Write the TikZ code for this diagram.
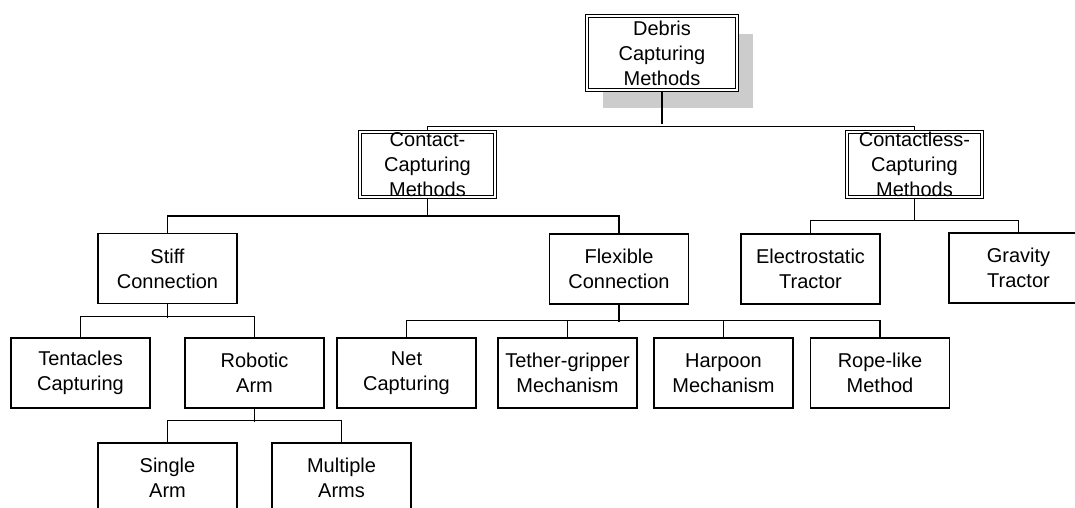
\documentclass[tikz,border=0pt]{standalone}
\usepackage{fontspec}
\setmainfont{Liberation Sans}
\usetikzlibrary{shadows}
\tikzset{
	box/.style={draw, fill=white, line width=1.5pt, minimum width=139pt, minimum height=70pt,
		align=center, inner sep=0pt, font=\fontsize{20}{25}\selectfont},
	dbox/.style={box, double, double distance=2.6pt, line width=1.1pt},
	wire/.style={line width=1.5pt}
}
\begin{document}
\begin{tikzpicture}[x=1pt,y=-1pt]
			\clip (0,0) rectangle (1075,508);
			\path
			(662,53) node[dbox, minimum width=150pt, minimum height=74pt,
				drop shadow={shadow xshift=16pt, shadow yshift=-18pt, fill=black!20, opacity=1}]
				(debris) {Debris\\Capturing\\Methods}
			(427.5,164.5) node[dbox, minimum width=135pt, minimum height=65pt] (contact) {Contact-\\Capturing\\Methods}
			(914.5,164.5) node[dbox, minimum width=135pt, minimum height=65pt] (contactless) {Contactless-\\Capturing\\Methods}
			(167.5,268.5) node[box] (stiff) {Stiff\\Connection}
			(619,269) node[box] (flexible) {Flexible\\Connection}
			(810.5,269) node[box] (electro) {Electrostatic\\Tractor}
			(1018.5,268) node[box] (gravity) {Gravity\\Tractor}
			(80.5,373) node[box] (tentacles) {Tentacles\\Capturing}
			(254.5,373) node[box] (robotic) {Robotic\\Arm}
			(406.5,373) node[box] (net) {Net\\Capturing}
			(567.5,373) node[box] (tether) {Tether-gripper\\Mechanism}
			(723.5,373) node[box] (harpoon) {Harpoon\\Mechanism}
			(880,373) node[box] (rope) {Rope-like\\Method}
			(167.5,478) node[box] (single) {Single\\Arm}
			(341.5,478) node[box] (multiple) {Multiple\\Arms}
			;
			\draw[wire] (debris.south) -- ++(0,33) (contact.north) -- ++(0,-5) -| (contactless.north);
			\draw[wire] (contact.south) -- ++(0,17) (stiff.north) -- ++(0,-17) -| (flexible.north);
			\draw[wire] (contactless.south) -- ++(0,22) (electro.north) -- ++(0,-13) -| (gravity.north);
			\draw[wire] (stiff.south) -- ++(0,14) (tentacles.north) -- ++(0,-21) -| (robotic.north);
			\draw[wire] (flexible.south) -- ++(0,17) (net.north) -- ++(0,-17) -| (rope.north)
				(tether.north) -- ++(0,-17) (harpoon.north) -- ++(0,-17);
			\draw[wire] (robotic.south) -- ++(0,13) (single.north) -- ++(0,-22) -| (multiple.north);
	\end{tikzpicture}
\end{document}
